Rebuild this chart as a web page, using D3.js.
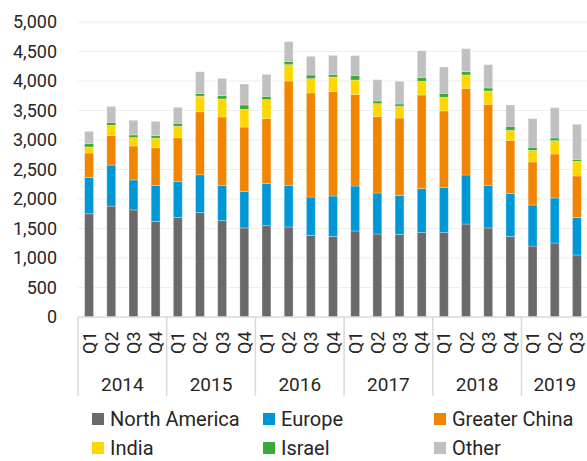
<!DOCTYPE html>
<html><head><meta charset="utf-8">
<script src="https://cdn.jsdelivr.net/npm/d3@7"></script>
<style>body{margin:0;background:#fff}svg{display:block;font-family:Roboto,"DejaVu Sans",sans-serif}</style>
</head><body>
<svg id="c" width="587" height="461"></svg>
<script>
const years = ["2014","2015","2016","2017","2018","2019"];
const quarters = ["Q1","Q2","Q3","Q4","Q1","Q2","Q3","Q4","Q1","Q2","Q3","Q4","Q1","Q2","Q3","Q4","Q1","Q2","Q3","Q4","Q1","Q2","Q3"];
const quarterYears = ["2014","2014","2014","2014","2015","2015","2015","2015","2016","2016","2016","2016","2017","2017","2017","2017","2018","2018","2018","2018","2019","2019","2019"];
const seriesNames = ["North America","Europe","Greater China","India","Israel","Other"];
const seriesColors = ["#6b6969","#0097d7","#f18500","#ffd700","#3aaa35","#c0c0c0"];
const northAmerica = [1750,1880,1815,1620,1685,1770,1633,1510,1548,1526,1384,1367,1458,1407,1396,1430,1430,1576,1509,1367,1203,1254,1051];
const europe = [617,695,508,610,615,640,599,620,712,706,650,684,762,695,666,745,768,831,723,729,695,763,633];
const greaterChina = [413,503,576,638,740,1068,1158,1090,1102,1768,1763,1768,1554,1294,1311,1588,1294,1469,1373,899,729,746,706];
const india = [101,170,142,164,192,265,305,300,322,277,243,249,243,220,198,232,231,226,226,169,198,226,249];
const israel = [57,51,45,45,51,46,57,73,56,56,62,45,79,45,39,67,68,56,51,68,51,45,33];
const other = [209,271,248,238,271,367,293,356,373,334,316,322,334,362,385,452,447,390,395,361,486,514,594];
const yTicks = [0,500,1000,1500,2000,2500,3000,3500,4000,4500,5000];

const seriesValues = [northAmerica, europe, greaterChina, india, israel, other];
const keys = seriesNames;
const rows = quarters.map((q, i) => {
  const r = {idx: i, q, year: quarterYears[i]};
  keys.forEach((k, j) => r[k] = seriesValues[j][i]);
  return r;
});

const svg = d3.select("#c");
const x = d3.scaleBand().domain(d3.range(quarters.length)).range([78, 588]).paddingInner(0.6).paddingOuter(0.3);
const y = d3.scaleLinear().domain([0, 5000]).range([317, 22]);
const color = d3.scaleOrdinal().domain(keys).range(seriesColors);

// gridlines
svg.append("g").selectAll("line").data(yTicks.filter(d => d > 0)).join("line")
  .attr("x1", 78).attr("x2", 587).attr("y1", d => y(d)).attr("y2", d => y(d))
  .attr("stroke", "#eeeeee").attr("stroke-width", 1.2);

// y tick labels
svg.append("g").selectAll("text").data(yTicks).join("text")
  .attr("x", 57).attr("y", d => y(d)).attr("dy", "0.35em")
  .attr("text-anchor", "end").attr("font-size", 18).attr("fill", "#262626")
  .text(d => d3.format(",")(d));

// stacked bars
const stack = d3.stack().keys(keys)(rows);
svg.append("g").selectAll("g").data(stack).join("g")
  .attr("fill", d => color(d.key))
  .selectAll("rect").data(d => d).join("rect")
  .attr("x", d => x(d.data.idx)).attr("width", x.bandwidth())
  .attr("y", d => y(d[1])).attr("height", d => y(d[0]) - y(d[1]))
  .attr("stroke", "#ffffff").attr("stroke-opacity", 0.35).attr("stroke-width", 0.8);

// baseline
svg.append("line").attr("x1", 78).attr("x2", 587).attr("y1", 317).attr("y2", 317)
  .attr("stroke", "#d9d9d9").attr("stroke-width", 1.5);

// year separators
const step = x.step();
const bound = i => x(i) - x.paddingInner() * step / 2;
const yearStarts = years.map(yr => quarterYears.indexOf(yr));
svg.append("g").selectAll("line").data(yearStarts).join("line")
  .attr("x1", d => bound(d)).attr("x2", d => bound(d))
  .attr("y1", 317).attr("y2", 396)
  .attr("stroke", "#d9d9d9").attr("stroke-width", 1.5);

// quarter labels
svg.append("g").selectAll("text").data(rows).join("text")
  .attr("transform", d => `translate(${x(d.idx) + x.bandwidth()/2},354) rotate(-90)`)
  .attr("dominant-baseline", "central")
  .attr("text-anchor", "start").attr("font-size", 18).attr("fill", "#262626")
  .text(d => d.q);

// year labels
svg.append("g").selectAll("text").data(years).join("text")
  .attr("x", yr => {
    const idx = rows.filter(r => r.year === yr).map(r => r.idx);
    return (x(idx[0]) + x(idx[idx.length-1]) + x.bandwidth()) / 2;
  })
  .attr("y", 391).attr("text-anchor", "middle").attr("font-size", 19).attr("fill", "#262626")
  .text(d => d);

// legend
const legendX = [92, 263, 434];
const legendY = [419, 448];
const lg = svg.append("g").selectAll("g").data(keys).join("g")
  .attr("transform", (d, i) => `translate(${legendX[i % 3]},${legendY[Math.floor(i / 3)]})`);
lg.append("rect").attr("x", 0).attr("y", -6).attr("width", 12).attr("height", 12).attr("fill", d => color(d));
lg.append("text").attr("x", 18).attr("y", 0).attr("dy", "0.35em")
  .attr("font-size", 20).attr("fill", "#262626").text(d => d);
</script>
</body></html>
